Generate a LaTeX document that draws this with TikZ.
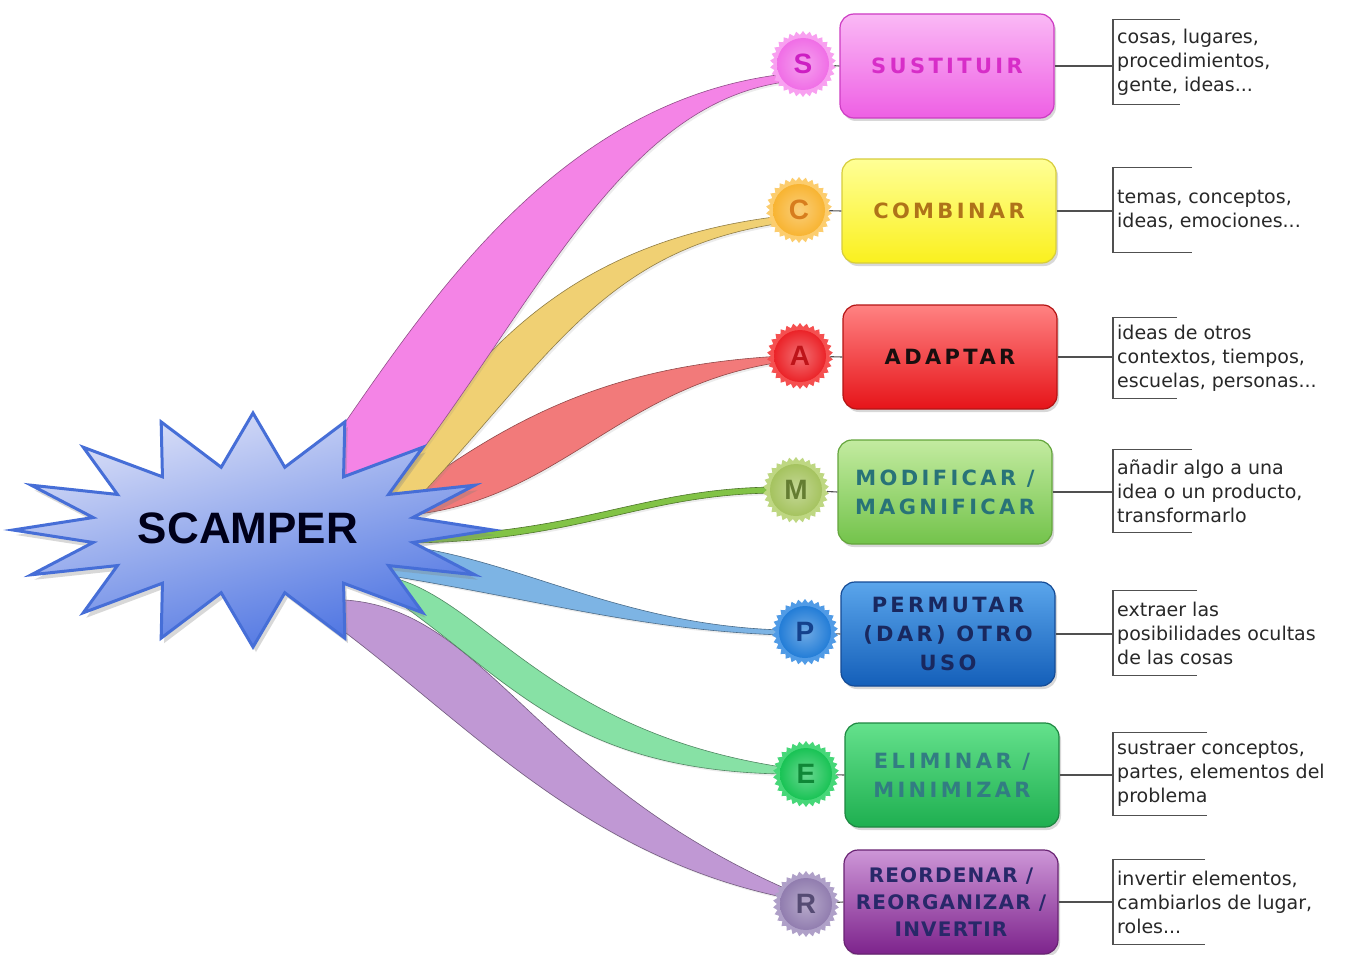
\documentclass[tikz,border=0pt]{standalone}
\usepackage{fontspec}
\setmainfont{Liberation Sans}
\newfontfamily\descfont{DejaVu Sans}
\newfontfamily\boxfont{DejaVu Sans}[LetterSpace=16]
\newfontfamily\boxfontnarrow{DejaVu Sans}[LetterSpace=6]
\usetikzlibrary{shapes.geometric,shadows,calc}

% ribbons
\definecolor{ribS}{RGB}{244,132,230}
\definecolor{ribC}{RGB}{240,208,115}
\definecolor{ribA}{RGB}{242,122,122}
\definecolor{ribM}{RGB}{130,195,70}
\definecolor{ribP}{RGB}{125,180,228}
\definecolor{ribE}{RGB}{135,225,165}
\definecolor{ribR}{RGB}{192,152,212}
% star
\definecolor{starTop}{RGB}{222,226,248}
\definecolor{starMid}{RGB}{140,165,238}
\definecolor{starBot}{RGB}{72,112,225}
\definecolor{starLine}{RGB}{70,110,215}
% boxes: top, bottom, border, text
\definecolor{sT}{RGB}{250,185,245}\definecolor{sB}{RGB}{238,95,228}\definecolor{sD}{RGB}{205,60,195}\definecolor{sX}{RGB}{215,45,200}
\definecolor{cT}{RGB}{255,255,150}\definecolor{cB}{RGB}{250,240,30}\definecolor{cD}{RGB}{215,205,60}\definecolor{cX}{RGB}{175,115,25}
\definecolor{aT}{RGB}{255,130,130}\definecolor{aB}{RGB}{230,20,25}\definecolor{aD}{RGB}{180,20,20}\definecolor{aX}{RGB}{25,15,15}
\definecolor{mT}{RGB}{195,235,160}\definecolor{mB}{RGB}{115,195,75}\definecolor{mD}{RGB}{100,165,60}\definecolor{mX}{RGB}{40,115,120}
\definecolor{pT}{RGB}{90,165,235}\definecolor{pB}{RGB}{20,95,185}\definecolor{pD}{RGB}{20,75,150}\definecolor{pX}{RGB}{25,40,95}
\definecolor{eT}{RGB}{100,225,140}\definecolor{eB}{RGB}{30,175,80}\definecolor{eD}{RGB}{30,135,65}\definecolor{eX}{RGB}{50,125,130}
\definecolor{rT}{RGB}{205,150,215}\definecolor{rB}{RGB}{125,35,140}\definecolor{rD}{RGB}{105,35,115}\definecolor{rX}{RGB}{40,40,105}
% badges: base, halo, letter
\definecolor{bsC}{RGB}{240,110,230}\definecolor{bsH}{RGB}{248,160,240}\definecolor{bsL}{RGB}{205,30,195}
\definecolor{bcC}{RGB}{248,180,50}\definecolor{bcH}{RGB}{252,205,110}\definecolor{bcL}{RGB}{215,125,30}
\definecolor{baC}{RGB}{235,35,40}\definecolor{baH}{RGB}{245,80,80}\definecolor{baL}{RGB}{190,20,25}
\definecolor{bmC}{RGB}{165,195,95}\definecolor{bmH}{RGB}{190,215,130}\definecolor{bmL}{RGB}{100,125,50}
\definecolor{bpC}{RGB}{35,125,215}\definecolor{bpH}{RGB}{80,155,230}\definecolor{bpL}{RGB}{20,65,140}
\definecolor{beC}{RGB}{25,195,85}\definecolor{beH}{RGB}{70,215,120}\definecolor{beL}{RGB}{15,135,55}
\definecolor{brC}{RGB}{145,125,175}\definecolor{brH}{RGB}{175,160,200}\definecolor{brL}{RGB}{85,75,115}
\definecolor{descText}{RGB}{40,40,40}
\definecolor{bracketLine}{RGB}{80,80,80}

\tikzset{
  ribbon/.style={fill=#1, draw=#1!60!black, line width=0.6pt,
    drop shadow={opacity=0.15, shadow xshift=2pt, shadow yshift=-2pt}},
  starburst/.style={top color=starTop, middle color=starMid, bottom color=starBot,
    shading angle=15, draw=starLine, line width=3pt,
    drop shadow={opacity=0.3, shadow xshift=3pt, shadow yshift=-5pt}},
  mbox/.style n args={4}{rounded corners=14pt, minimum width=214pt, minimum height=104pt,
    draw=#3, line width=1.2pt, top color=#1, bottom color=#2, text=#4,
    font=\boxfont\bfseries\fontsize{21}{29}\selectfont, align=center, inner sep=2pt,
    drop shadow={opacity=0.3, shadow xshift=2pt, shadow yshift=-3pt}},
  halo/.style={star, star points=30, star point ratio=1.13, minimum size=66pt,
    inner sep=0pt, fill=#1, draw=none},
  badge/.style n args={2}{circle, minimum size=52pt, inner sep=0pt,
    inner color=#1!65!white, outer color=#1, text=#2,
    font=\bfseries\fontsize{28}{28}\selectfont},
  desc/.style={anchor=west, align=left, text=descText,
    font=\descfont\fontsize{19}{24}\selectfont, minimum height=#1,
    inner xsep=4pt, inner ysep=0pt},
  brk/.style={draw=bracketLine, line width=1.1pt},
  link/.style={draw=bracketLine, line width=1.1pt},
}

% ribbon: colour, 4 points of the upper edge (star -> badge), 4 points of the lower edge (badge -> star)
\newcommand{\myribbon}[9]{\filldraw[ribbon=#1] (290,530) -- #2 .. controls #3 and #4 .. #5 -- #6 .. controls #7 and #8 .. #9 -- cycle;}

\begin{document}
\begin{tikzpicture}[x=1pt,y=-1pt]
\useasboundingbox[fill=white] (0,0) rectangle (1357,955);

% ---- ribbons (behind the star) ----
\myribbon{ribR}{(320,600)}{(480,590)}{(520,770)}{(782,887)}{(782,897)}{(560,850)}{(440,690)}{(288,592)}
\myribbon{ribE}{(380,575)}{(480,590)}{(540,730)}{(782,767)}{(782,774)}{(570,770)}{(510,680)}{(395,600)}
\myribbon{ribP}{(400,545)}{(520,560)}{(620,625)}{(782,630)}{(782,635)}{(640,630)}{(540,600)}{(385,575)}
\myribbon{ribM}{(400,536)}{(580,536)}{(640,487)}{(780,487)}{(780,493)}{(640,493)}{(580,543)}{(400,543)}
\myribbon{ribA}{(400,500)}{(520,410)}{(620,365)}{(782,356)}{(782,362)}{(620,385)}{(560,500)}{(410,515)}
\myribbon{ribC}{(385,490)}{(480,340)}{(580,240)}{(782,216)}{(782,223)}{(600,250)}{(550,360)}{(405,512)}
\myribbon{ribS}{(333,440)}{(430,300)}{(560,100)}{(785,74)}{(785,82)}{(615,105)}{(530,320)}{(380,505)}

% ---- central starburst ----
\filldraw[starburst] (13,530)
  \foreach \i in {1,...,31}{ -- ({253-(isodd(\i)?163:240)*cos(\i*11.25)},{530-(isodd(\i)?64:117)*sin(\i*11.25)}) }
  -- cycle;
\node[font=\bfseries\fontsize{44}{44}\selectfont, text=black!90!blue] (scamper) at (248,528) {SCAMPER};

% ---- boxes ----
\node[mbox={sT}{sB}{sD}{sX}] (S) at (947,66) {SUSTITUIR};
\node[mbox={cT}{cB}{cD}{cX}] (C) at (949,211) {COMBINAR};
\node[mbox={aT}{aB}{aD}{aX}] (A) at (950,357) {ADAPTAR};
\node[mbox={mT}{mB}{mD}{mX}] (M) at (945,492) {MODIFICAR /\\MAGNIFICAR};
\node[mbox={pT}{pB}{pD}{pX}] (P) at (948,634) {PERMUTAR\\(DAR) OTRO\\USO};
\node[mbox={eT}{eB}{eD}{eX}] (E) at (952,775) {ELIMINAR /\\MINIMIZAR};
\node[mbox={rT}{rB}{rD}{rX}, font=\boxfontnarrow\bfseries\fontsize{20}{27}\selectfont] (R) at (951,902) {REORDENAR /\\REORGANIZAR /\\INVERTIR};

% ---- badges ----
\node[halo=bsH] (hS) at (803,64) {};
\node[halo=bcH] (hC) at (799,210) {};
\node[halo=baH] (hA) at (800,356) {};
\node[halo=bmH] (hM) at (796,490) {};
\node[halo=bpH] (hP) at (805,632) {};
\node[halo=beH] (hE) at (806,774) {};
\node[halo=brH] (hR) at (806,904) {};
\draw[link] (hS) -- (S.west);
\draw[link] (hC) -- (C.west);
\draw[link] (hA) -- (A.west);
\draw[link] (hM) -- (M.west);
\draw[link] (hP) -- (P.west);
\draw[link] (hE) -- (E.west);
\draw[link] (hR) -- (R.west);
\node[badge={bsC}{bsL}] (bS) at (hS) {S};
\node[badge={bcC}{bcL}] (bC) at (hC) {C};
\node[badge={baC}{baL}] (bA) at (hA) {A};
\node[badge={bmC}{bmL}] (bM) at (hM) {M};
\node[badge={bpC}{bpL}] (bP) at (hP) {P};
\node[badge={beC}{beL}] (bE) at (hE) {E};
\node[badge={brC}{brL}] (bR) at (hR) {R};

% ---- descriptions ----
\node[desc=85pt] (dS) at (1113,62) {cosas, lugares,\\procedimientos,\\gente, ideas...};
\node[desc=85pt] (dC) at (1113,210) {temas, conceptos,\\ideas, emociones...};
\node[desc=80pt] (dA) at (1113,358) {ideas de otros\\contextos, tiempos,\\escuelas, personas...};
\node[desc=83pt] (dM) at (1113,491) {añadir algo a una\\idea o un producto,\\transformarlo};
\node[desc=84pt] (dP) at (1113,633) {extraer las\\posibilidades ocultas\\de las cosas};
\node[desc=82pt] (dE) at (1113,774) {sustraer conceptos,\\partes, elementos del\\problema};
\node[desc=85pt] (dR) at (1113,902) {invertir elementos,\\cambiarlos de lugar,\\roles...};

\foreach \n/\len in {S/67,C/79,A/64,M/79,P/84,E/94,R/92}{
  \draw[brk] ($(d\n.north west)+(\len,0)$) -- (d\n.north west) -- (d\n.south west) -- ++(\len,0);
  \draw[link] (\n.east) -- (\n.east -| d\n.west);
}
\end{tikzpicture}
\end{document}
